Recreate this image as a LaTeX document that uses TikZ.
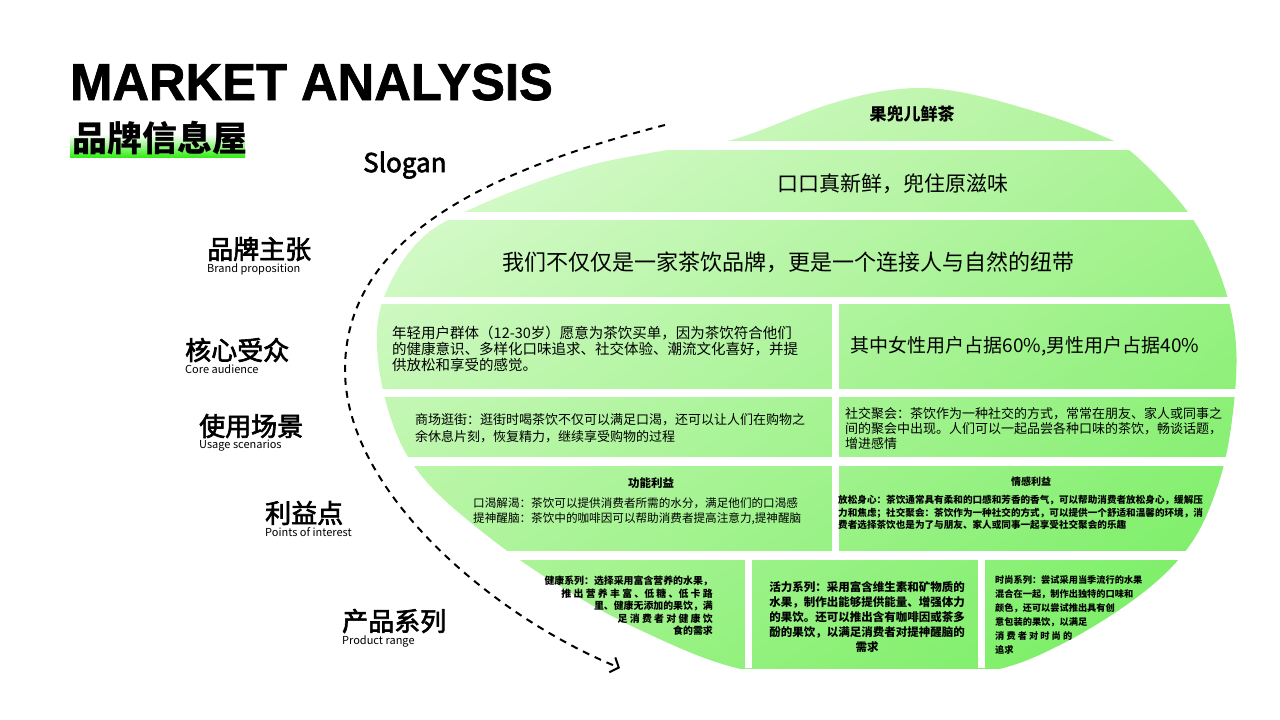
\documentclass[tikz,border=0pt]{standalone}
\usepackage{fontspec}
\setmainfont{Noto Sans CJK SC}
\newfontfamily\titlefont{Liberation Sans}[BoldFeatures={FakeBold=1.4}]
\newfontfamily\cjkmid{Noto Sans CJK SC}[FakeBold=2.5]
\usepackage{tikz}
\usetikzlibrary{arrows.meta,positioning,shadings}

\definecolor{gLight}{HTML}{E4FCDC}
\definecolor{gUpRight}{HTML}{ACF296}
\definecolor{gLowLeft}{HTML}{A8F392}
\definecolor{gDark}{HTML}{70EE5C}
\definecolor{hlGreen}{HTML}{36EC18}

\begin{document}
\begin{tikzpicture}[
  x=1pt, y=-1pt,
  cn/.style={anchor=west, inner sep=0pt, font=\cjkmid\fontsize{26}{28}\selectfont},
  en/.style={inner sep=0pt, font=\fontsize{11}{12}\selectfont},
  cell/.style={inner sep=0pt, align=left},
  head/.style={inner sep=0pt, font=\bfseries\fontsize{11.5}{12}\selectfont},
  gap/.style={fill=white},
  dashflow/.style={dash pattern=on 7pt off 6pt, line width=2pt, -{Straight Barb[length=7pt,width=16pt]}}
]
  \useasboundingbox[fill=white] (0,0) rectangle (1280,720);

  % title
  \node[anchor=base west, inner sep=0pt, font=\titlefont\bfseries\fontsize{52}{52}\selectfont] (title) at (70,100) {\scalebox{0.975}[1]{MARKET ANALYSIS}};
  \shade[top color=white, bottom color=hlGreen] (70,134) rectangle (245,157);
  \node[anchor=west, inner sep=0pt, font=\bfseries\fontsize{35}{36}\selectfont] (subtitle) at (72,138) {品牌信息屋};

  % house shape
  \begin{scope}
    \clip (0,85) rectangle (1280,668);
    \shade[upper left=gLight, upper right=gUpRight, lower left=gLowLeft, lower right=gDark]
      plot[smooth cycle, tension=0.6] coordinates {(900,89) (960,92) (1040,113) (1100,135) (1135,155) (1190,215) (1222,280) (1236,345) (1232,420) (1218,485) (1190,545) (1140,595) (1060,645) (985,672) (870,680) (745,670) (640,630) (550,580) (480,530) (425,480) (395,430) (378,360) (383,300) (420,240) (480,205) (580,168) (667,150) (735,139) (830,104)};
  \end{scope}
  \foreach \ya/\yb in {141/150, 212/220, 297/304, 389/397, 457/466, 551/560}
    \fill[gap] (370,\ya) rectangle (1280,\yb);
  \fill[gap] (832,304) rectangle (839,551);
  \fill[gap] (745,560) rectangle (752,668);
  \fill[gap] (978,560) rectangle (985,668);

  % left labels
  \node[anchor=west, inner sep=0pt, font=\cjkmid\fontsize{26}{28}\selectfont] (slogan) at (363,165) {Slogan};
  \node[cn] (lbrand) at (207,249) {品牌主张};
  \node[en, below=2pt of lbrand.south west, anchor=north west] (ebrand) {Brand proposition};
  \node[cn] (lcore) at (185,350) {核心受众};
  \node[en, below=2pt of lcore.south west, anchor=north west] (ecore) {Core audience};
  \node[cn] (lusage) at (199,426) {使用场景};
  \node[en, below=2pt of lusage.south west, anchor=north west] (eusage) {Usage scenarios};
  \node[cn] (lpoints) at (265,513) {利益点};
  \node[en, below=2pt of lpoints.south west, anchor=north west] (epoints) {Points of interest};
  \node[cn] (lproduct) at (342,621) {产品系列};
  \node[en, below=2pt of lproduct.south west, anchor=north west] (eproduct) {Product range};

  % flow
  \coordinate (dashstart) at (665,125);
  \coordinate (bend) at (345,370);
  \coordinate (dashend) at (620,668);
  \draw[dashflow] (dashstart) .. controls (470,175) and (345,245) .. (bend) .. controls (345,490) and (490,615) .. (dashend);

  % cells
  \node[cell, font=\bfseries\fontsize{17}{18}\selectfont] (brandname) at (912,114) {果兜儿鲜茶};
  \node[cell, font=\fontsize{21}{22}\selectfont] (slogantxt) at (893,184) {口口真新鲜，兜住原滋味};
  \node[cell, font=\fontsize{22}{24}\selectfont] (claim) at (788,262) {我们不仅仅是一家茶饮品牌，更是一个连接人与自然的纽带};
  \node[cell, anchor=west, font=\fontsize{14.5}{16}\selectfont] (aud1) at (392,349) {年轻用户群体（12-30岁）愿意为茶饮买单，因为茶饮符合他们\\的健康意识、多样化口味追求、社交体验、潮流文化喜好，并提\\供放松和享受的感觉。};
  \node[cell, font=\fontsize{19}{20}\selectfont] (aud2) at (1025,346) {其中女性用户占据60\%,男性用户占据40\%};
  \node[cell, anchor=west, font=\fontsize{13}{16.5}\selectfont] (use1) at (415,428) {商场逛街：逛街时喝茶饮不仅可以满足口渴，还可以让人们在购物之\\余休息片刻，恢复精力，继续享受购物的过程};
  \node[cell, anchor=west, font=\fontsize{13}{15}\selectfont] (use2) at (845,428) {社交聚会：茶饮作为一种社交的方式，常常在朋友、家人或同事之\\间的聚会中出现。人们可以一起品尝各种口味的茶饮，畅谈话题，\\增进感情};
  \node[head] (func) at (651,483) {功能利益};
  \node[cell, anchor=west, font=\fontsize{11.6}{15}\selectfont] (func1) at (473,511) {口渴解渴：茶饮可以提供消费者所需的水分，满足他们的口渴感\\提神醒脑：茶饮中的咖啡因可以帮助消费者提高注意力,提神醒脑};
  \node[head, font=\bfseries\fontsize{10}{11}\selectfont] (emo) at (1031,482) {情感利益};
  \node[cell, anchor=west, font=\bfseries\fontsize{9.6}{12.5}\selectfont] (emo1) at (838,512.5) {放松身心：茶饮通常具有柔和的口感和芳香的香气，可以帮助消费者放松身心，缓解压\\力和焦虑；社交聚会：茶饮作为一种社交的方式，可以提供一个舒适和温馨的环境，消\\费者选择茶饮也是为了与朋友、家人或同事一起享受社交聚会的乐趣};
  \node[cell, align=right, anchor=east, font=\bfseries\fontsize{9.9}{12.5}\selectfont] (health) at (713,606) {健康系列：选择采用富含营养的水果，\\推 出 营 养 丰 富 、低 糖 、低 卡 路\\里、健康无添加的果饮，满\\足 消 费 者 对 健 康 饮\\食的需求\hspace{10pt}};
  \node[cell, align=center, font=\bfseries\fontsize{11.5}{15}\selectfont] (vital) at (867,617) {活力系列：采用富含维生素和矿物质的\\水果，制作出能够提供能量、增强体力\\的果饮。还可以推出含有咖啡因或茶多\\酚的果饮，以满足消费者对提神醒脑的\\需求};
  \node[cell, anchor=west, font=\bfseries\fontsize{9.2}{14}\selectfont] (fashion) at (995,615) {时尚系列：尝试采用当季流行的水果\\混合在一起，制作出独特的口味和\\颜色，还可以尝试推出具有创\\意包装的果饮，以满足\\消 费 者 对 时 尚 的\\追求};
\end{tikzpicture}
\end{document}
